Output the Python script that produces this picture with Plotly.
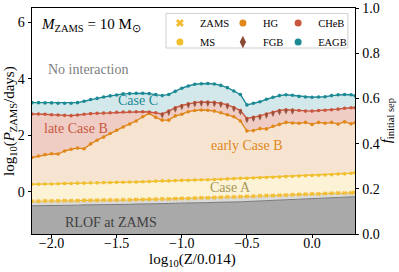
import plotly.graph_objects as go

# log10(Z/0.014) grid
X = [-2.15, -2.10, -2.05, -2.00, -1.95, -1.90, -1.85, -1.80, -1.75, -1.70,
     -1.65, -1.60, -1.55, -1.50, -1.45, -1.40, -1.35, -1.30, -1.25, -1.20,
     -1.15, -1.10, -1.05, -1.00, -0.95, -0.90, -0.85, -0.80, -0.75, -0.70,
     -0.65, -0.60, -0.55, -0.50, -0.45, -0.40, -0.35, -0.30, -0.25, -0.20,
     -0.15, -0.10, -0.05, 0.00, 0.05, 0.10, 0.15, 0.20, 0.25, 0.30, 0.33]

# log10(P_ZAMS/days) boundaries
EAGB = [3.15, 3.15, 3.14, 3.14, 3.13, 3.13, 3.13, 3.15, 3.20, 3.26,
        3.30, 3.35, 3.39, 3.42, 3.46, 3.47, 3.48, 3.48, 3.47, 3.44,
        3.40, 3.44, 3.55, 3.66, 3.74, 3.80, 3.82, 3.83, 3.81, 3.76,
        3.68, 3.56, 3.44, 3.07, 3.13, 3.18, 3.27, 3.34, 3.40, 3.43,
        3.41, 3.37, 3.35, 3.34, 3.35, 3.36, 3.40, 3.43, 3.44, 3.43, 3.39]
CHEB = [2.75, 2.75, 2.74, 2.72, 2.71, 2.70, 2.69, 2.71, 2.74, 2.76,
        2.77, 2.78, 2.79, 2.81, 2.82, 2.83, 2.83, 2.83, 2.82, 2.79,
        2.75, 2.85, 2.97, 3.05, 3.11, 3.15, 3.17, 3.17, 3.16, 3.13,
        3.07, 2.98, 2.87, 2.59, 2.63, 2.68, 2.75, 2.81, 2.87, 2.90,
        2.89, 2.87, 2.85, 2.85, 2.87, 2.88, 2.90, 2.92, 2.95, 2.97, 2.97]
FGB = [None, None, None, None, None, None, None, None, None, None,
       None, None, None, None, None, None, None, None, None, None,
       2.70, 2.79, 2.90, 2.99, 3.05, 3.09, 3.11, 3.11, 3.10, 3.07,
       3.01, 2.92, 2.81, 2.53, 2.57, 2.62, 2.69, 2.75, 2.81, 2.84,
       2.83, None, None, None, None, None, None, None, None, None, None]
HG = [1.21, 1.26, 1.31, 1.34, 1.33, 1.44, 1.50, 1.54, 1.52, 1.69,
      1.82, 1.93, 2.06, 2.17, 2.29, 2.39, 2.50, 2.65, 2.77, 2.63,
      2.53, 2.53, 2.68, 2.74, 2.83, 2.87, 2.89, 2.88, 2.85, 2.79,
      2.72, 2.65, 2.50, 2.15, 2.16, 2.23, 2.22, 2.31, 2.38, 2.45,
      2.43, 2.42, 2.45, 2.38, 2.45, 2.42, 2.45, 2.39, 2.47, 2.40, 2.44]
MS = [0.26, 0.26, 0.27, 0.27, 0.28, 0.29, 0.29, 0.30, 0.30, 0.31,
      0.31, 0.32, 0.32, 0.33, 0.33, 0.34, 0.34, 0.35, 0.36, 0.37,
      0.38, 0.38, 0.39, 0.40, 0.40, 0.41, 0.42, 0.42, 0.43, 0.44,
      0.45, 0.46, 0.47, 0.47, 0.48, 0.49, 0.50, 0.51, 0.52, 0.53,
      0.54, 0.55, 0.56, 0.57, 0.58, 0.59, 0.60, 0.62, 0.63, 0.65, 0.67]
ZAMS = [-0.34, -0.34, -0.33, -0.33, -0.33, -0.32, -0.32, -0.32, -0.31, -0.31,
        -0.31, -0.30, -0.30, -0.30, -0.29, -0.29, -0.28, -0.28, -0.27, -0.27,
        -0.26, -0.26, -0.25, -0.24, -0.24, -0.23, -0.22, -0.22, -0.21, -0.20,
        -0.19, -0.19, -0.18, -0.17, -0.16, -0.15, -0.14, -0.14, -0.13, -0.12,
        -0.11, -0.10, -0.09, -0.08, -0.08, -0.07, -0.06, -0.05, -0.05, -0.04, -0.03]
RLOF = [-0.50, -0.50, -0.49, -0.49, -0.49, -0.48, -0.48, -0.48, -0.47, -0.47,
        -0.47, -0.46, -0.46, -0.45, -0.45, -0.45, -0.44, -0.44, -0.43, -0.43,
        -0.42, -0.42, -0.41, -0.41, -0.40, -0.40, -0.39, -0.39, -0.38, -0.38,
        -0.37, -0.36, -0.36, -0.35, -0.34, -0.34, -0.33, -0.32, -0.31, -0.31,
        -0.30, -0.29, -0.28, -0.27, -0.26, -0.25, -0.24, -0.23, -0.21, -0.20, -0.18]

LOGP_MIN, LOGP_MAX = -1.5, 6.5
X_MIN, X_MAX = -2.15, 0.33

FONT = "'Liberation Serif', 'Times New Roman', Times, serif"

C_EAGB = "#1c8a95"
C_CHEB = "#c9573f"
C_HG = "#e0881c"
C_MS = "#f0bf2c"
C_ZAMS = "#f2bd35"
C_FGB = "#8a4a34"

fig = go.Figure()

# stacked fills
baseline = [LOGP_MIN] * len(X)
fig.add_trace(go.Scatter(x=X, y=baseline, mode="lines", line=dict(width=0),
                         showlegend=False, hoverinfo="skip"))
fills = [
    (RLOF, "#a9a9a9", "#7a7a7a", 1.0),
    (ZAMS, "#dadada", "rgba(0,0,0,0)", 0),
    (MS, "#fcf2d5", "rgba(0,0,0,0)", 0),
    (HG, "#f6e3d0", "rgba(0,0,0,0)", 0),
    (CHEB, "#efcdc5", "rgba(0,0,0,0)", 0),
    (EAGB, "#d3e8ea", "rgba(0,0,0,0)", 0),
]
for ys, fc, lc, lw in fills:
    fig.add_trace(go.Scatter(x=X, y=ys, mode="lines", fill="tonexty",
                             fillcolor=fc, line=dict(color=lc, width=lw),
                             showlegend=False, hoverinfo="skip"))

# boundary marker lines
def marker_line(ys, color, symbol="circle", size=3.6, lw=1.4):
    fig.add_trace(go.Scatter(x=X, y=ys, mode="lines+markers",
                             line=dict(color=color, width=lw),
                             marker=dict(color=color, size=size, symbol=symbol,
                                         line=dict(width=0)),
                             showlegend=False, connectgaps=False))

marker_line(ZAMS, C_ZAMS, "x", 4, 1.2)
marker_line(MS, C_MS)
marker_line(HG, C_HG)
marker_line(CHEB, C_CHEB)
fig.add_trace(go.Scatter(x=X, y=FGB, mode="markers",
                         marker=dict(color=C_FGB, size=4.5, symbol="diamond-tall",
                                     line=dict(width=0)),
                         opacity=0.85, showlegend=False))
marker_line(EAGB, C_EAGB)

# invisible trace that carries the right-hand f axis
fig.add_trace(go.Scatter(x=X, y=[None] * len(X), yaxis="y2", mode="lines",
                         showlegend=False, hoverinfo="skip"))

# legend entries, one plotly legend per column
legend_items = [("ZAMS", C_ZAMS, "x", 7, "legend"), ("MS", C_MS, "circle", 7, "legend"),
                ("HG", C_HG, "circle", 7, "legend2"), ("FGB", C_FGB, "diamond-tall", 9, "legend2"),
                ("CHeB", C_CHEB, "circle", 7, "legend3"), ("EAGB", C_EAGB, "circle", 7, "legend3")]
for name, col, sym, sz, lg in legend_items:
    fig.add_trace(go.Scatter(x=[None], y=[None], mode="markers", name=name,
                             legend=lg,
                             marker=dict(color=col, symbol=sym, size=sz,
                                         line=dict(width=0))))

labels = [
    ("No interaction", -2.045, 4.34, "#808080", "left"),
    ("Case C", -1.335, 3.21, C_EAGB, "center"),
    ("late Case B", -2.075, 2.22, C_CHEB, "left"),
    ("early Case B", -0.50, 1.65, C_HG, "center"),
    ("Case A", -0.625, 0.16, "#a8995a", "center"),
    ("RLOF at ZAMS", -1.54, -1.08, "#404040", "center"),
]
for txt, x, y, col, anc in labels:
    fig.add_annotation(x=x, y=y, text=txt, showarrow=False, xanchor=anc,
                       yanchor="middle", font=dict(family=FONT, size=14, color=col))

fig.add_annotation(x=0.022, y=0.925, xref="paper", yref="paper",
                   text="<i>M</i><sub>ZAMS</sub> = 10 M<sub>⊙</sub>",
                   showarrow=False, xanchor="left", yanchor="middle",
                   font=dict(family=FONT, size=15, color="black"))

# axis titles
fig.add_annotation(x=0.498, y=-0.113, xref="paper", yref="paper",
                   text="log<sub>10</sub>(Z/0.014)", showarrow=False,
                   xanchor="center", yanchor="middle",
                   font=dict(family=FONT, size=15, color="black"))
fig.add_annotation(x=-0.068, y=0.5, xref="paper", yref="paper",
                   text="log<sub>10</sub>(<i>P</i><sub>ZAMS</sub>/days)",
                   showarrow=False, textangle=-90,
                   xanchor="center", yanchor="middle",
                   font=dict(family=FONT, size=15, color="black"))
fig.add_annotation(x=1.1, y=0.5, xref="paper", yref="paper",
                   text="<i>f</i><sub>initial sep</sub>",
                   showarrow=False, textangle=-90,
                   xanchor="center", yanchor="middle",
                   font=dict(family=FONT, size=15, color="black"))

# legend frame
fig.add_shape(type="rect", xref="paper", yref="paper",
              x0=0.415, x1=0.978, y0=0.823, y1=0.976, layer="above",
              line=dict(color="#d0d0d0", width=1),
              fillcolor="rgba(255,255,255,0.8)")

leg_common = dict(orientation="v", yanchor="top", y=0.998, xanchor="left",
                  traceorder="normal",
                  bgcolor="rgba(0,0,0,0)", borderwidth=0,
                  font=dict(family=FONT, size=10.5, color="black"),
                  itemwidth=30, tracegroupgap=0)

axis_common = dict(ticks="outside", ticklen=3.5, tickwidth=0.8, tickcolor="black",
                   showline=True, linecolor="black", linewidth=0.8,
                   showgrid=False, zeroline=False, automargin=False,
                   tickfont=dict(family=FONT, size=14, color="black"))

fig.update_layout(
    width=399, height=272,
    margin=dict(l=32, r=44, t=8, b=38),
    paper_bgcolor="white", plot_bgcolor="white",
    font=dict(family=FONT, size=14, color="black"),
    showlegend=True,
    legend=dict(x=0.396, **leg_common),
    legend2=dict(x=0.591, **leg_common),
    legend3=dict(x=0.762, **leg_common),
    xaxis=dict(range=[X_MIN, X_MAX], tickvals=[-2.0, -1.5, -1.0, -0.5, 0.0],
               tickformat=".1f", mirror=True, ticklabelstandoff=-7, **axis_common),
    yaxis=dict(range=[LOGP_MIN, LOGP_MAX], tickvals=[0, 2, 4, 6], **axis_common),
    yaxis2=dict(range=[0, 1], overlaying="y", side="right",
                tickvals=[0, 0.2, 0.4, 0.6, 0.8, 1.0], tickformat=".1f",
                **axis_common),
)

fig.write_html("out.html", config={"displayModeBar": False},
               post_script="document.body.style.margin='0';document.body.style.padding='0';")
